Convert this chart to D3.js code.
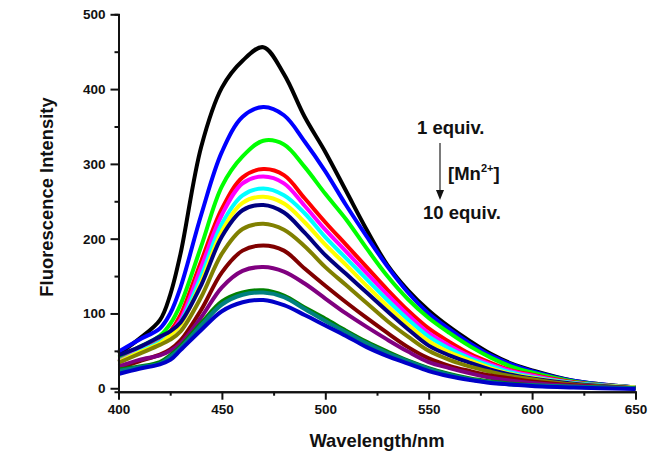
<!DOCTYPE html>
<html>
<head>
<meta charset="utf-8">
<script src="https://cdnjs.cloudflare.com/ajax/libs/d3/7.8.5/d3.min.js"></script>
<style>
  html, body { margin: 0; padding: 0; background: #fff; }
  text { font-family: "Liberation Sans", Arial, sans-serif; font-weight: bold; fill: #111; }
  .domain, .tick line { stroke: #111; stroke-width: 2; }
</style>
</head>
<body>
<svg id="chart" width="666" height="469"></svg>
<script>
var wavelengths = [400, 410, 420, 425, 430, 440, 450, 460, 470, 480, 490, 500, 510, 520, 530, 540, 550, 560, 570, 580, 590, 600, 620, 650];

// one list per equivalent of Mn2+
var s01 = [46, 66, 91, 125, 180, 323, 402, 438, 456, 420, 363, 316, 264, 212, 165, 131, 104, 82, 63, 46, 33, 24, 10, 1];
var s02 = [49, 65, 80, 100, 135, 232, 316, 363, 376, 365, 330, 290, 245, 203, 163, 128, 100, 79, 60, 44, 32, 23, 10, 1];
var s03 = [41, 55, 70, 86, 112, 190, 270, 310, 331, 326, 296, 260, 226, 187, 150, 119, 94, 74, 56, 41, 29, 21, 9, 1];
var s04 = [35, 50, 63, 76, 98, 170, 240, 282, 293, 285, 254, 222, 192, 162, 132, 104, 80, 62, 46, 34, 24, 18, 8, 1];
var s05 = [36, 50, 62, 74, 92, 162, 232, 274, 283, 274, 244, 212, 183, 154, 125, 98, 74, 57, 43, 32, 23, 17, 7, 1];
var s06 = [35, 49, 62, 72, 88, 150, 220, 258, 267, 258, 234, 202, 174, 146, 118, 92, 69, 53, 40, 30, 21, 15, 7, 1];
var s07 = [35, 48, 60, 71, 85, 142, 210, 248, 256, 247, 222, 192, 165, 137, 110, 85, 63, 48, 37, 27, 19, 14, 6, 1];
var s08 = [44, 55, 69, 76, 88, 138, 203, 238, 245, 235, 208, 178, 153, 128, 103, 79, 57, 44, 34, 25, 18, 13, 6, 0];
var s09 = [34, 46, 58, 65, 76, 122, 180, 213, 220, 212, 190, 162, 138, 114, 90, 69, 50, 38, 29, 22, 16, 12, 5, 0];
var s10 = [27, 36, 45, 52, 64, 105, 155, 184, 191, 184, 160, 137, 115, 94, 74, 55, 40, 30, 23, 17, 13, 9, 4, 0];
var s11 = [29, 38, 44, 50, 60, 95, 135, 157, 162, 156, 140, 120, 100, 82, 65, 49, 35, 27, 20, 14, 10, 7, 3, 0];
var s12 = [25, 29, 35, 44, 56, 87, 116, 128, 131, 124, 108, 93, 77, 62, 49, 37, 27, 19, 13, 9, 6, 4, 2, 0];
var s13 = [23, 28, 33, 42, 54, 84, 112, 125, 128, 122, 106, 90, 75, 60, 47, 36, 26, 18, 12, 8, 5, 4, 2, 0];
var s14 = [19, 26, 32, 38, 51, 78, 103, 115, 118, 111, 98, 84, 70, 55, 43, 33, 23, 16, 11, 7, 5, 3, 1, -1];

var allSeries = [s01, s02, s03, s04, s05, s06, s07, s08, s09, s10, s11, s12, s13, s14];
var seriesColors = ["#000000", "#0000ff", "#00ff00", "#ff0000", "#ff00ff", "#00ffff", "#ffff00",
                    "#000080", "#808000", "#800000", "#800080", "#008000", "#008080", "#0000c8"];

var xMajor = [400, 450, 500, 550, 600, 650];
var xMinor = [425, 475, 525, 575, 625];
var yMajor = [0, 100, 200, 300, 400, 500];
var yMinor = [50, 150, 250, 350, 450];

var svg = d3.select("#chart");

var x = d3.scaleLinear().domain([400, 650]).range([118.5, 635.5]);
var y = d3.scaleLinear().domain([-4.6, 500]).range([391.7, 14.3]);

var line = d3.line()
    .x(function(d, i) { return x(wavelengths[i]); })
    .y(function(d) { return y(d); })
    .curve(d3.curveCatmullRom.alpha(0.5));

svg.append("g").selectAll("path")
    .data(allSeries)
    .enter().append("path")
    .attr("d", line)
    .attr("fill", "none")
    .attr("stroke", function(d, i) { return seriesColors[i]; })
    .attr("stroke-width", 4)
    .attr("stroke-linejoin", "round");

// axes: minor ticks first, then labelled major ticks on top
var gx = svg.append("g").attr("transform", "translate(0," + y.range()[0] + ")");
gx.append("g").call(d3.axisBottom(x).tickValues(xMinor).tickSize(4).tickFormat(""));
gx.append("g").call(d3.axisBottom(x).tickValues(xMajor).tickSize(8).tickSizeOuter(0).tickPadding(5).tickFormat(d3.format("d")));

var gy = svg.append("g").attr("transform", "translate(" + x.range()[0] + ",0)");
gy.append("g").call(d3.axisLeft(y).tickValues(yMinor).tickSize(4).tickFormat(""));
gy.append("g").call(d3.axisLeft(y).tickValues(yMajor).tickSize(8).tickSizeOuter(0).tickPadding(5).tickFormat(d3.format("d")));

svg.selectAll(".tick text").style("font-size", "13.5px").attr("font-family", null);

svg.append("text").attr("x", 377).attr("y", 447).attr("text-anchor", "middle")
    .style("font-size", "18.4px").text("Wavelength/nm");
svg.append("text").attr("transform", "translate(53,197) rotate(-90)").attr("text-anchor", "middle")
    .style("font-size", "18.4px").text("Fluorescence Intensity");

// annotation
svg.append("text").attr("x", 417).attr("y", 134).style("font-size", "18.5px").text("1 equiv.");
svg.append("text").attr("x", 423).attr("y", 219).style("font-size", "18.5px").text("10 equiv.");
var mn = svg.append("text").attr("x", 448).attr("y", 180).style("font-size", "18.5px");
mn.append("tspan").text("[Mn");
mn.append("tspan").attr("dy", -8).style("font-size", "11px").text("2+");
mn.append("tspan").attr("dy", 8).text("]");

svg.append("line").attr("x1", 440).attr("x2", 440).attr("y1", 143).attr("y2", 192)
    .attr("stroke", "#222").attr("stroke-width", 1.2);
svg.append("path").attr("d", "M436,190L444,190L440,200Z").attr("fill", "#111");
</script>
</body>
</html>
